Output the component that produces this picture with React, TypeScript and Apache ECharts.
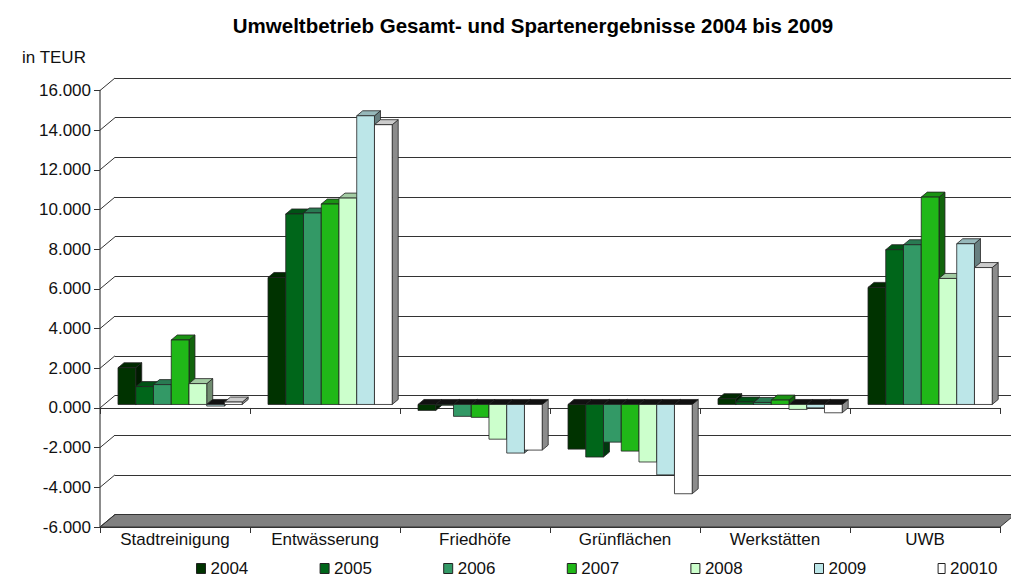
import React, { useEffect, useRef } from 'react';
import * as echarts from 'echarts';

const categories = ['Stadtreinigung', 'Entwässerung', 'Friedhöfe', 'Grünflächen', 'Werkstätten', 'UWB'];
const years = ['2004', '2005', '2006', '2007', '2008', '2009', '20010'];
const values2004 = [1850, 6400, -300, -2250, 290, 5900];
const values2005 = [900, 9600, -40, -2650, 120, 7800];
const values2006 = [1000, 9650, -600, -1900, 100, 8050];
const values2007 = [3250, 10100, -650, -2350, 220, 10450];
const values2008 = [1050, 10400, -1750, -2900, -250, 6350];
const values2009 = [-80, 14550, -2450, -3550, -170, 8100];
const values2010 = [120, 14100, -2300, -4500, -420, 6900];
const seriesValues = [values2004, values2005, values2006, values2007, values2008, values2009, values2010];
const colors = ['#003300', '#00661a', '#339966', '#20b818', '#ccffcc', '#bce6e8', '#ffffff'];
const yTicks = [-6000, -4000, -2000, 0, 2000, 4000, 6000, 8000, 10000, 12000, 14000, 16000];

const FONT = '"Liberation Sans", Arial, Helvetica, sans-serif';

function shade(hex: string, f: number): string {
  const n = parseInt(hex.slice(1), 16);
  const r = Math.round(((n >> 16) & 255) * f);
  const g = Math.round(((n >> 8) & 255) * f);
  const b = Math.round((n & 255) * f);
  return `rgb(${r},${g},${b})`;
}

export default function App() {
  const ref = useRef<HTMLDivElement>(null);
  useEffect(() => {
    const chart = echarts.init(ref.current!, null, { renderer: 'svg' });
    const DX = 15;
    const DY = 12.5;

    const barSeries = seriesValues.map((vals, idx) => ({
      type: 'custom',
      name: years[idx],
      xAxisIndex: 0,
      yAxisIndex: 0,
      z: 3,
      itemStyle: { color: colors[idx] },
      data: vals.map((v, i) => [i, v]),
      renderItem: (params: any, api: any) => {
        const ci = api.value(0) as number;
        const v = api.value(1) as number;
        const band = api.size([1, 0])[0];
        const p = api.coord([ci, v]);
        const z0 = api.coord([ci, 0]);
        const bw = band * 0.1183;
        const left = p[0] - band * 0.38 + idx * bw;
        const right = left + bw;
        const top = p[1] - 3.5;
        const base = z0[1] - 3.5;
        const y1 = Math.min(top, base);
        const y2 = Math.max(top, base);
        const d = 6;
        const e = 5;
        const st = { stroke: '#222', lineWidth: 0.8 };
        return {
          type: 'group',
          children: [
            {
              type: 'polygon',
              shape: { points: [[right, y1], [right + d, y1 - e], [right + d, y2 - e], [right, y2]] },
              style: { fill: shade(colors[idx], 0.55), ...st },
            },
            {
              type: 'polygon',
              shape: { points: [[left, y1], [left + d, y1 - e], [right + d, y1 - e], [right, y1]] },
              style: { fill: v < 0 ? '#111111' : shade(colors[idx], 0.8), ...st },
            },
            {
              type: 'rect',
              shape: { x: left, y: y1, width: bw, height: y2 - y1 },
              style: { fill: colors[idx], ...st },
            },
          ],
        };
      },
    }));

    const frameSeries = {
      type: 'custom',
      name: 'frame',
      xAxisIndex: 0,
      yAxisIndex: 0,
      z: 1,
      silent: true,
      data: yTicks.map((v) => [0, v]),
      renderItem: (params: any, api: any) => {
        const v = api.value(1) as number;
        const band = api.size([1, 0])[0];
        const p = api.coord([0, v]);
        const x0 = p[0] - band / 2;
        const y = p[1];
        const children: any[] = [];
        if (v === yTicks[0]) {
          const xr = api.coord([categories.length - 1, v])[0] + band / 2;
          children.push({
            type: 'polygon',
            shape: { points: [[x0, y], [x0 + DX, y - DY], [xr + DX, y - DY], [xr, y]] },
            style: { fill: '#808080', stroke: '#333', lineWidth: 1 },
          });
        }
        children.push({
          type: 'line',
          shape: { x1: x0, y1: y, x2: x0 + DX, y2: y - DY },
          style: { stroke: '#333', lineWidth: 1 },
        });
        return { type: 'group', children };
      },
    };

    const legends = years.map((y, i) => ({
      left: 196 + 123.6 * i,
      top: 560,
      itemWidth: i === 6 ? 7 : 9,
      itemHeight: 10,
      itemGap: 0,
      padding: 0,
      textStyle: { fontSize: 17, color: '#111', fontFamily: FONT },
      data: [
        {
          name: y,
          icon: 'rect',
          itemStyle: { color: colors[i], borderColor: '#222', borderWidth: 1 },
        },
      ],
    }));

    chart.setOption({
      animation: false,
      backgroundColor: '#ffffff',
      textStyle: { fontFamily: FONT },
      graphic: [
        {
          type: 'text',
          x: 533,
          y: 25,
          style: {
            text: 'Umweltbetrieb Gesamt- und Spartenergebnisse 2004 bis 2009',
            font: `bold 20.5px ${FONT}`,
            fill: '#000',
            textAlign: 'center',
            textVerticalAlign: 'middle',
          },
        },
        {
          type: 'text',
          x: 22,
          y: 57,
          style: {
            text: 'in TEUR',
            font: `17px ${FONT}`,
            fill: '#111',
            textAlign: 'left',
            textVerticalAlign: 'middle',
          },
        },
      ],
      legend: legends,
      grid: [
        { left: 100, top: 90.5, width: 900, height: 436.5 },
        { left: 115, top: 78, width: 900, height: 436.5 },
      ],
      xAxis: [
        {
          type: 'category',
          gridIndex: 0,
          data: categories,
          position: 'bottom',
          axisLine: { onZero: true, lineStyle: { color: '#333', width: 1 } },
          axisTick: { show: true, length: 6, lineStyle: { color: '#333' } },
          axisLabel: { show: false },
        },
        {
          type: 'category',
          gridIndex: 0,
          data: categories,
          position: 'bottom',
          axisLine: { onZero: false, show: true, lineStyle: { color: '#333', width: 1 } },
          axisTick: { show: true, length: 6, lineStyle: { color: '#333' } },
          axisLabel: { fontSize: 17, color: '#111', margin: 4, fontFamily: FONT },
        },
        { type: 'category', gridIndex: 1, data: categories, show: false },
      ],
      yAxis: [
        {
          type: 'value',
          gridIndex: 0,
          min: -6000,
          max: 16000,
          interval: 2000,
          axisLine: { show: true, lineStyle: { color: '#666', width: 1.5 } },
          axisTick: { show: true, length: 6, lineStyle: { color: '#333' } },
          splitLine: { show: false },
          axisLabel: {
            fontSize: 17,
            color: '#111',
            margin: 9,
            fontFamily: FONT,
            formatter: (v: number) => (v / 1000).toFixed(3),
          },
        },
        {
          type: 'value',
          gridIndex: 1,
          min: -6000,
          max: 16000,
          interval: 2000,
          axisLine: { show: false },
          axisTick: { show: false },
          axisLabel: { show: false },
          splitLine: { show: true, lineStyle: { color: '#333', width: 1 } },
        },
      ],
      series: [frameSeries, ...barSeries],
    });
    return () => chart.dispose();
  }, []);
  return (
    <div
      ref={ref}
      style={{ position: 'absolute', left: 0, top: 0, width: 1011, height: 577, background: '#fff' }}
    />
  );
}
